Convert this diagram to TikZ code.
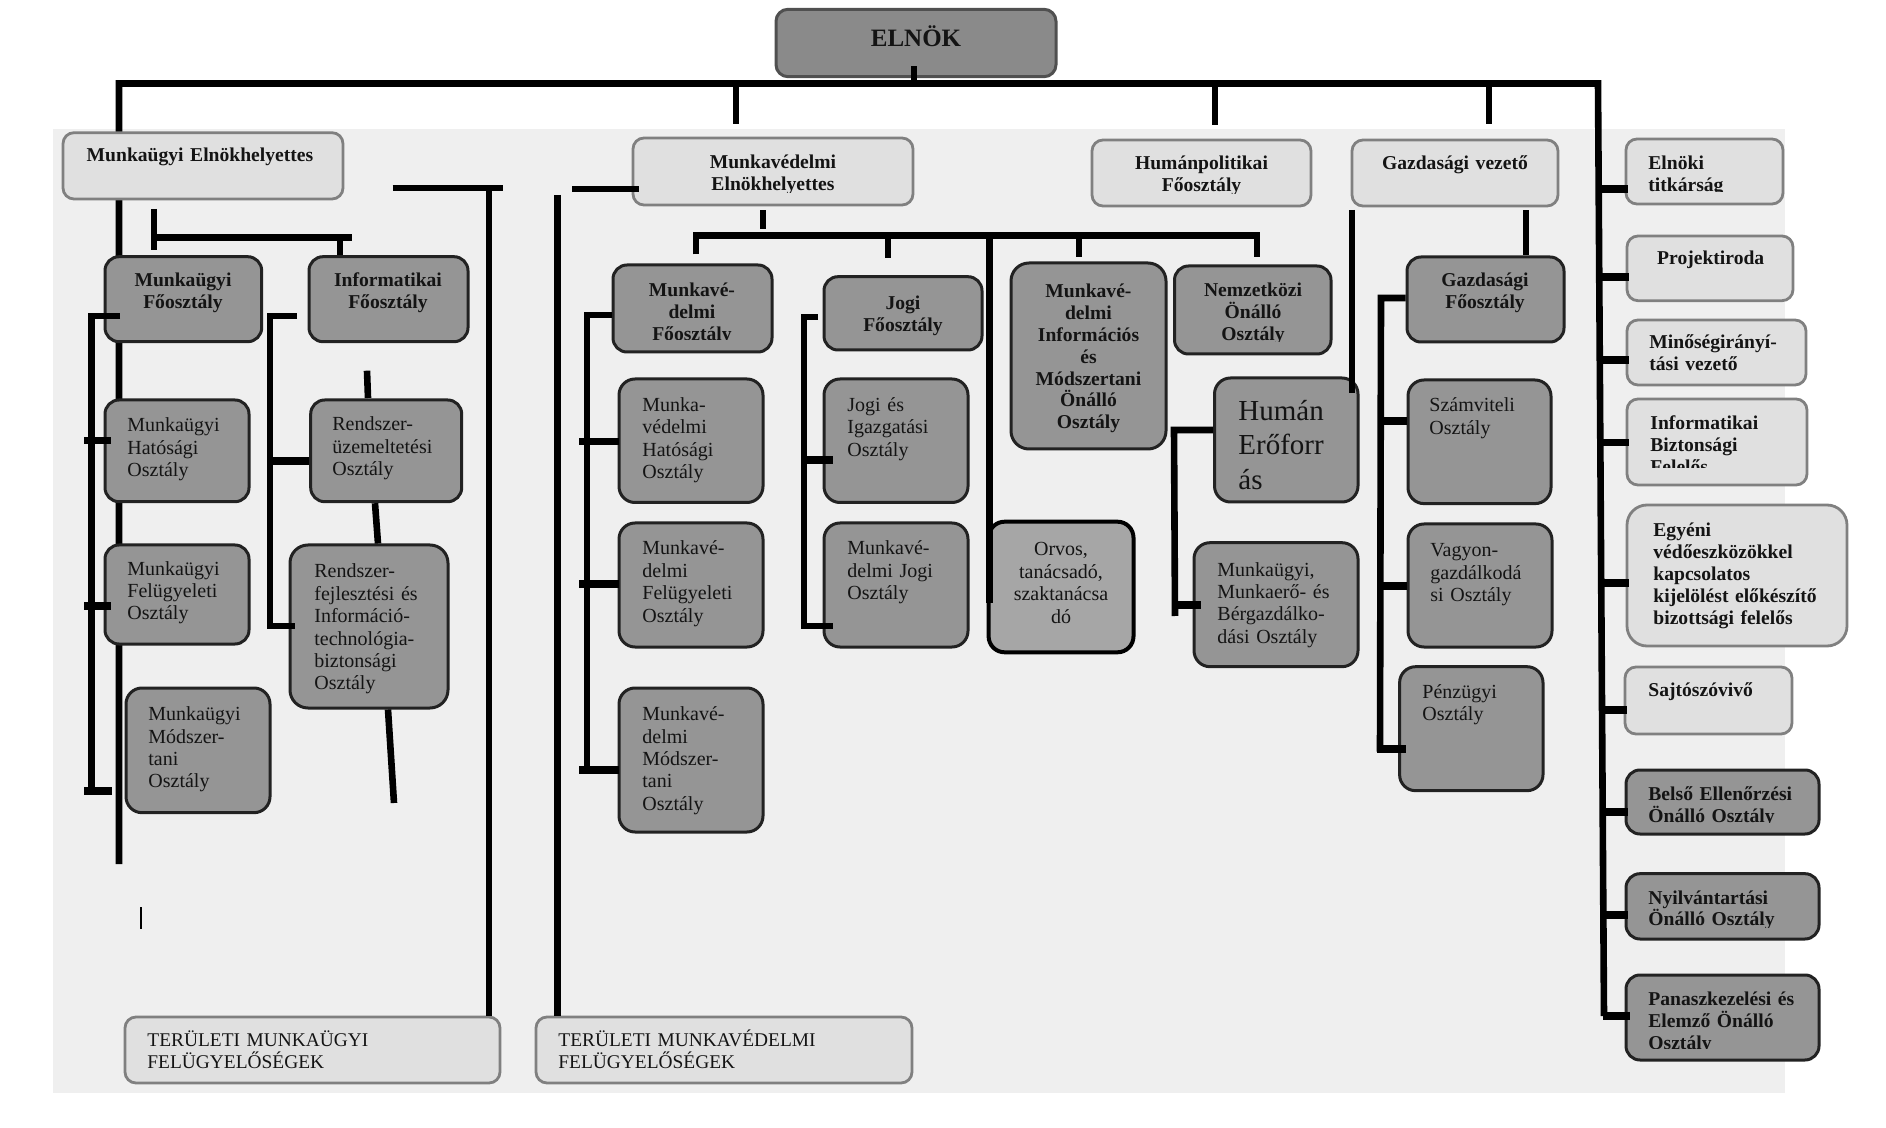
\documentclass[tikz,border=0pt]{standalone}
\usepackage{fontspec}
\setmainfont{Liberation Serif}
\usetikzlibrary{fit}
\definecolor{bgc}{RGB}{239,239,239}
\definecolor{lfill}{RGB}{224,224,224}
\definecolor{lbord}{RGB}{128,128,128}
\definecolor{dfill}{RGB}{149,149,149}
\definecolor{dbord}{RGB}{34,34,34}
\definecolor{efill}{RGB}{138,138,138}
\definecolor{ebord}{RGB}{80,80,80}
\definecolor{ofill}{RGB}{166,166,166}
\definecolor{txt}{RGB}{20,20,20}
\newcommand\OrgBox[6]{\node[#2, fit={(#3,#4) (#5,#6)}] (#1) {};%
  \gdef\cxa{#3}\gdef\cya{#4}\gdef\cxb{#5}\gdef\cyb{#6}\gdef\clipoff{12}}
\newcommand\OrgText[5]{\begin{scope}\clip (\cxa,\cya) rectangle (\cxb,{\cyb-\clipoff});%
  \node[#4] (#1) at (#2,#3) {#5};\end{scope}}
\begin{document}
\begin{tikzpicture}[x=0.5pt,y=-0.5pt,
  conn/.style={line width=3.3pt, black},
  tick/.style={line width=3.8pt, black},
  lbox/.style={draw=lbord, fill=lfill, line width=1.4pt, rounded corners=5.5pt, inner sep=0pt},
  dbox/.style={draw=dbord, fill=dfill, line width=1.5pt, rounded corners=7pt, inner sep=0pt},
  ebox/.style={draw=ebord, fill=efill, line width=1.5pt, rounded corners=6pt, inner sep=0pt},
  obox/.style={draw=black, fill=ofill, line width=2pt, rounded corners=8pt, inner sep=0pt},
  tl/.style={anchor=base west, inner sep=0pt, text width=160pt, align=left, text=txt},
  tc/.style={anchor=base, inner sep=0pt, text width=150pt, align=center, text=txt},
  fR/.style={font=\fontsize{10}{11.2}\selectfont},
  fB/.style={font=\fontsize{9.8}{10.9}\selectfont\bfseries},
  fH/.style={font=\fontsize{14.5}{17.1}\selectfont},
  fT/.style={font=\fontsize{9.7}{10.8}\selectfont},
  fE/.style={font=\fontsize{12.5}{14}\selectfont\bfseries}]
\fill[white] (0,0) rectangle (1886,1128);
\useasboundingbox (0,0) rectangle (1886,1128);
\fill[bgc] (53,129.3) rectangle (1785,1093);

% ---- connectors lying behind the boxes
\coordinate (mainL) at (119,83.5);
\coordinate (mainR) at (1598,83.5);
\coordinate (spineEnd) at (1604,1016);
\draw[conn, line join=miter] (119,864) -- (mainL) -- (mainR) -- (spineEnd);

% ---- boxes
\OrgBox{elnok}{ebox}{776}{9.3}{1056}{76.7}
\OrgText{t-elnok}{916}{46.7}{tc,fE}{ELNÖK}
\OrgBox{mueh}{lbox}{63}{132.7}{343}{199}
\OrgText{t-mueh}{200}{161.7}{tc,fB}{Munkaügyi Elnökhelyettes}
\OrgBox{mveh}{lbox}{633}{138}{913}{205}
\OrgText{t-mveh}{773}{169}{tc,fB}{Munkavédelmi\\Elnökhelyettes}
\OrgBox{humpol}{lbox}{1092}{140}{1311}{206}
\OrgText{t-humpol}{1201.5}{170}{tc,fB}{Humánpolitikai\\Főosztály}
\OrgBox{gazdvez}{lbox}{1352}{140}{1558}{206}
\OrgText{t-gazdvez}{1455}{170}{tc,fB}{Gazdasági vezető}
\OrgBox{elnoki}{lbox}{1626}{139}{1783}{204}
\OrgText{t-elnoki}{1648}{169.3}{tl,fB}{Elnöki\\titkárság}
\OrgBox{projekt}{lbox}{1627}{236}{1793}{300.7}
\OrgText{t-projekt}{1710.7}{265}{tc,fB}{Projektiroda}
\OrgBox{minoseg}{lbox}{1627}{320}{1806}{385}
\OrgText{t-minoseg}{1649}{349}{tl,fB}{Minőségirányí-\\tási vezető}
\OrgBox{infobizt}{lbox}{1627}{399}{1807}{485}
\gdef\clipoff{17}
\OrgText{t-infobizt}{1650}{430}{tl,fB}{Informatikai\\Biztonsági\\Felelős}
\OrgBox{egyeni}{lbox,rounded corners=10pt}{1627}{505}{1847}{646}
\OrgText{t-egyeni}{1653}{537}{tl,fB}{Egyéni\\védőeszközökkel\\kapcsolatos\\kijelölést előkészítő\\bizottsági felelős}
\OrgBox{sajto}{lbox}{1625}{667}{1792}{734}
\OrgText{t-sajto}{1648}{696}{tl,fB}{Sajtószóvivő}
\OrgBox{belso}{dbox}{1626}{770}{1819}{834}
\OrgText{t-belso}{1648}{800.4}{tl,fB}{Belső Ellenőrzési\\Önálló Osztály}
\OrgBox{nyilv}{dbox}{1626}{873.7}{1819}{939}
\OrgText{t-nyilv}{1648}{904}{tl,fB}{Nyilvántartási\\Önálló Osztály}
\OrgBox{panasz}{dbox}{1626}{975}{1819}{1060}
\OrgText{t-panasz}{1648}{1005.4}{tl,fB}{Panaszkezelési és\\Elemző Önálló\\Osztály}
\OrgBox{term}{lbox}{125}{1017}{500}{1083}
\OrgText{t-term}{147}{1046.5}{tl,fT}{TERÜLETI MUNKAÜGYI\\FELÜGYELŐSÉGEK}
\OrgBox{terv}{lbox}{536}{1017}{912}{1083}
\OrgText{t-terv}{558}{1046.5}{tl,fT}{TERÜLETI MUNKAVÉDELMI\\FELÜGYELŐSÉGEK}

\OrgBox{mufo}{dbox}{105}{256.7}{261.7}{341.7}
\OrgText{t-mufo}{183}{286.7}{tc,fB}{Munkaügyi\\Főosztály}
\OrgBox{infofo}{dbox}{309}{256.7}{468}{341.7}
\OrgText{t-infofo}{388}{286.7}{tc,fB}{Informatikai\\Főosztály}
\OrgBox{muhat}{dbox}{105}{400}{249}{501.7}
\OrgText{t-muhat}{127}{431.7}{tl,fR}{Munkaügyi\\Hatósági\\Osztály}
\OrgBox{mufel}{dbox}{105}{545}{249}{644}
\OrgText{t-mufel}{127}{575}{tl,fR}{Munkaügyi\\Felügyeleti\\Osztály}
\OrgBox{mumod}{dbox,rounded corners=8pt}{126}{688}{270}{812.7}
\OrgText{t-mumod}{148}{720.7}{tl,fR}{Munkaügyi\\Módszer-\\tani\\Osztály}
\OrgBox{rsu}{dbox}{310.7}{400}{461.7}{501.7}
\OrgText{t-rsu}{332}{430.7}{tl,fR}{Rendszer-\\üzemeltetési\\Osztály}
\OrgBox{rsf}{dbox,rounded corners=9pt}{290}{545}{448}{708}
\OrgText{t-rsf}{314}{578}{tl,fR}{Rendszer-\\fejlesztési és\\Információ-\\technológia-\\biztonsági\\Osztály}

\OrgBox{mvfo}{dbox}{613}{265}{772}{352}
\OrgText{t-mvfo}{692}{296.7}{tc,fB}{Munkavé-\\delmi\\Főosztály}
\OrgBox{mvhat}{dbox,rounded corners=8pt}{619}{379}{763}{502.5}
\OrgText{t-mvhat}{642}{411.5}{tl,fR}{Munka-\\védelmi\\Hatósági\\Osztály}
\OrgBox{mvfel}{dbox,rounded corners=8pt}{619}{523}{763}{647}
\OrgText{t-mvfel}{642}{555}{tl,fR}{Munkavé-\\delmi\\Felügyeleti\\Osztály}
\OrgBox{mvmod}{dbox,rounded corners=8pt}{619}{688}{763}{832}
\OrgText{t-mvmod}{642}{720.7}{tl,fR}{Munkavé-\\delmi\\Módszer-\\tani\\Osztály}
\OrgBox{jogifo}{dbox}{824}{276.7}{982}{350}
\OrgText{t-jogifo}{903}{310}{tc,fB}{Jogi\\Főosztály}
\OrgBox{jogiig}{dbox,rounded corners=8pt}{824}{379}{968}{502.5}
\OrgText{t-jogiig}{847}{411.5}{tl,fR}{Jogi és\\Igazgatási\\Osztály}
\OrgBox{mvjogi}{dbox,rounded corners=8pt}{824}{523}{968}{647}
\OrgText{t-mvjogi}{847}{555}{tl,fR}{Munkavé-\\delmi Jogi\\Osztály}
\OrgBox{mvinfo}{dbox,rounded corners=9pt}{1011}{263}{1166}{449}
\OrgText{t-mvinfo}{1088.5}{298}{tc,fB}{Munkavé-\\delmi\\Információs\\és\\Módszertani\\Önálló\\Osztály}
\OrgBox{nemz}{dbox}{1174.5}{266}{1331}{354}
\OrgText{t-nemz}{1253}{296.7}{tc,fB}{Nemzetközi\\Önálló\\Osztály}
\OrgBox{orvos}{obox}{988.6}{521.7}{1133.5}{652.3}
\OrgText{t-orvos}{1061}{556}{tc,fR}{Orvos,\\tanácsadó,\\szaktanácsa\\dó}
\OrgBox{human}{dbox,rounded corners=8pt}{1214.5}{378}{1358}{502}
\OrgText{t-human}{1238}{420.7}{tl,fH}{Humán\\Erőforr\\ás}
\OrgBox{munkaero}{dbox,rounded corners=8pt}{1194}{542.7}{1358}{666.7}
\OrgText{t-munkaero}{1217}{576}{tl,fR}{Munkaügyi,\\Munkaerő- és\\Bérgazdálko-\\dási Osztály}
\OrgBox{gazdfo}{dbox}{1407}{257}{1564}{342}
\OrgText{t-gazdfo}{1485}{287}{tc,fB}{Gazdasági\\Főosztály}
\OrgBox{szamv}{dbox,rounded corners=8pt}{1408}{380}{1551}{503.6}
\OrgText{t-szamv}{1429}{411.7}{tl,fR}{Számviteli\\Osztály}
\OrgBox{vagyon}{dbox,rounded corners=8pt}{1408}{524}{1552}{647}
\OrgText{t-vagyon}{1430}{556.7}{tl,fR}{Vagyon-\\gazdálkodá\\si Osztály}
\OrgBox{penz}{dbox,rounded corners=8pt}{1399.6}{666.7}{1543}{790.7}
\OrgText{t-penz}{1422}{698}{tl,fR}{Pénzügyi\\Osztály}

% ---- connectors on top
\draw[conn] (elnok.south -| 914,0) ++(0,-12) -- (914,83.5);
\draw[conn] (736,83.5) -- (736,124);
\draw[conn] (1215,83.5) -- (1215,125);
\draw[conn] (1489,83.5) -- (1489,124);

% Munkaugyi branch
\draw[conn] (154,209) -- (154,250);
\draw[conn] (154,237.3) -- (352,237.3);
\draw[conn] (340,237.3) -- (infofo.north -| 340,0);
\draw[conn, line join=miter] (120,316) -- (91.7,316) -- (91.7,790.7);
\draw[tick] (84,440.7) -- (muhat.west |- 0,440.7) -- ++(7,0);
\draw[tick] (84,606) -- (mufel.west |- 0,606) -- ++(7,0);
\draw[tick] (84,790.7) -- (112,790.7);
\draw[conn, line join=miter] (297,316) -- (270,316) -- (270,626) -- (rsf.west |- 0,626) -- ++(6,0);
\draw[tick] (270,461) -- (rsu.west |- 0,461);
\draw[conn] (367,370.7) -- (368,398);
\draw[conn] (rsu.south -| 375,0) -- (rsf.north -| 378,0);
\draw[conn] (rsf.south -| 388,0) -- (394,803);
\draw[conn] (392.7,188) -- (502.7,188);
\draw[conn] (489,188) -- (term.north -| 489,0) ++(0,-5);
\draw[line width=0.9pt] (141,907) -- (141,929);

% Munkavedelmi branch
\draw[conn] (572,189) -- (mveh.west |- 0,189) -- ++(7,0);
\draw[conn] (557.7,195) -- (terv.north -| 557.7,0);
\draw[conn] (mveh.south -| 763,0) ++(0,4) -- (763,229);
\draw[conn, line join=miter] (mvfo.north -| 696,0) ++(0,-9) -- (696,235.5) -- (1257,235.5) -- (1257,257);
\draw[conn] (888,235.5) -- (888,257.7);
\draw[conn] (989.5,235.5) -- (989.5,603);
\draw[conn] (1079,235.5) -- (1079,257);
\draw[conn, line join=miter] (mvfo.west |- 0,315) -- (587,315) -- (587,770);
\draw[tick] (579,441.7) -- (619,441.7);
\draw[tick] (579,584) -- (619,584);
\draw[tick] (579,770) -- (619,770);
\draw[conn, line join=miter] (818,317) -- (804,317) -- (804,626) -- (833,626);
\draw[tick] (806,460) -- (833,460);

% Human branch
\draw[conn, line join=miter] (human.west |- 0,430) -- (1174,430) -- (1175,616);
\draw[tick] (1175,605) -- (1201,605);
\draw[conn] (1352,210) -- (1352,393);
\draw[conn] (gazdvez.south -| 1526,0) ++(0,3) -- (gazdfo.north -| 1526,0);
\draw[conn, line join=miter] (gazdfo.west |- 0,298) -- (1381,298) -- (1380,751.7);
\draw[tick] (1381,421) -- (szamv.west |- 0,421);
\draw[tick] (1380,586) -- (vagyon.west |- 0,586);
\draw[tick] (1377,749) -- (1406,749);

% right column ticks
\draw[tick] (1598.6,189) -- (elnoki.west |- 0,189) -- ++(3,0);
\draw[tick] (1599.2,277) -- (projekt.west |- 0,277) -- ++(3,0);
\draw[tick] (1599.7,360) -- (minoseg.west |- 0,360) -- ++(3,0);
\draw[tick] (1600.2,442.7) -- (infobizt.west |- 0,442.7) -- ++(3,0);
\draw[tick] (1601.1,583.3) -- (egyeni.west |- 0,583.3) -- ++(3,0);
\draw[tick] (1601.9,710) -- (sajto.west |- 0,710) -- ++(3,0);
\draw[tick] (1602.5,811.7) -- (belso.west |- 0,811.7) -- ++(3,0);
\draw[tick] (1603.2,915) -- (nyilv.west |- 0,915) -- ++(3,0);
\draw[tick] (spineEnd) ++(-1.5,0) -- (panasz.west |- 0,1016) -- ++(5,0);
\end{tikzpicture}
\end{document}
